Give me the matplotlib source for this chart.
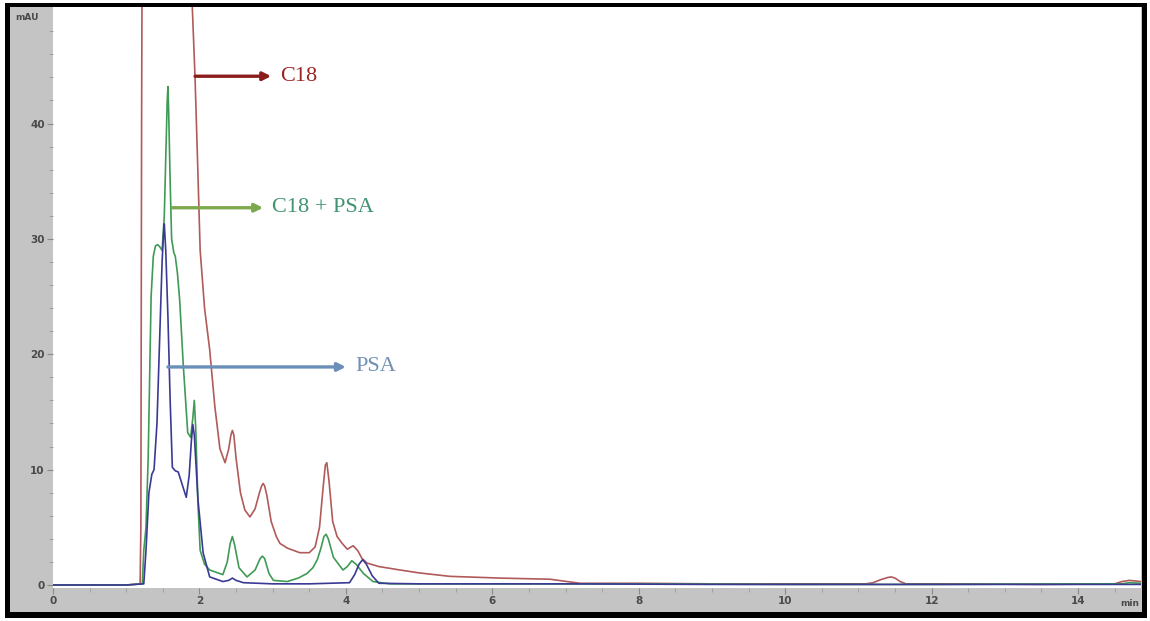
import numpy as np
import matplotlib.pyplot as plt
from matplotlib.patches import Rectangle

# retention times (min) and absorbances (mAU)
c18_t = [0.0, 1.0, 1.19, 1.20, 1.21, 1.22, 1.5, 1.88, 1.90, 1.94, 1.97, 2.01, 2.07, 2.14, 2.21, 2.28,
         2.35, 2.40, 2.43, 2.45, 2.47, 2.50, 2.56, 2.62, 2.69, 2.76, 2.82, 2.85, 2.87, 2.89, 2.92, 2.98,
         3.05, 3.10, 3.20, 3.37, 3.50, 3.58, 3.64, 3.69, 3.72, 3.74, 3.77, 3.82, 3.88, 3.95, 4.02, 4.07,
         4.10, 4.16, 4.22, 4.29, 4.45, 4.74, 5.0, 5.42, 6.1, 6.79, 7.02, 7.2, 8.0, 9.0, 10.0, 11.1,
         11.2, 11.3, 11.4, 11.45, 11.5, 11.57, 11.65, 12.5, 13.5, 14.5, 14.6, 14.7, 14.86]
c18_y = [0.0, 0.0, 0.1, 5.0, 40.0, 60.0, 90.0, 60.0, 50.5, 44.0, 37.7, 29.0, 24.0, 20.4, 15.5, 11.8,
         10.6, 11.8, 13.0, 13.4, 13.0, 11.0, 8.0, 6.5, 5.9, 6.6, 8.0, 8.6, 8.8, 8.6, 7.8, 5.5,
         4.2, 3.6, 3.2, 2.8, 2.8, 3.3, 5.0, 8.5, 10.4, 10.6, 9.0, 5.5, 4.2, 3.6, 3.1, 3.3,
         3.4, 3.0, 2.3, 1.9, 1.6, 1.3, 1.05, 0.75, 0.6, 0.5, 0.3, 0.15, 0.15, 0.1, 0.1, 0.1,
         0.2, 0.45, 0.65, 0.7, 0.6, 0.3, 0.1, 0.1, 0.05, 0.1, 0.3, 0.4, 0.3]

c18psa_t = [0.0, 1.0, 1.22, 1.24, 1.27, 1.30, 1.32, 1.34, 1.37, 1.40, 1.43, 1.46, 1.49, 1.52, 1.54,
            1.56, 1.57, 1.58, 1.60, 1.62, 1.65, 1.67, 1.70, 1.73, 1.78, 1.84, 1.88, 1.91, 1.93, 1.95,
            1.98, 2.01, 2.07, 2.14, 2.32, 2.38, 2.42, 2.45, 2.48, 2.54, 2.65, 2.76, 2.83, 2.86, 2.89,
            2.95, 3.01, 3.20, 3.35, 3.47, 3.55, 3.61, 3.66, 3.70, 3.73, 3.76, 3.83, 3.96, 4.02, 4.08,
            4.14, 4.24, 4.37, 4.6, 6.0, 8.0, 10.0, 12.0, 14.0, 14.6, 14.7, 14.86]
c18psa_y = [0.0, 0.0, 0.1, 3.0, 5.0, 11.0, 18.0, 25.0, 28.5, 29.4, 29.5, 29.3, 29.0, 32.0, 37.0,
            42.0, 43.2, 41.0, 35.0, 30.0, 28.8, 28.5, 27.0, 24.7, 19.0, 13.2, 12.8, 14.5, 16.0, 13.5,
            7.0, 3.0, 1.8, 1.3, 0.9, 2.0, 3.6, 4.2, 3.5, 1.5, 0.7, 1.3, 2.3, 2.5, 2.3, 1.0,
            0.4, 0.3, 0.6, 1.0, 1.5, 2.2, 3.2, 4.2, 4.4, 4.0, 2.4, 1.3, 1.6, 2.1,
            1.8, 1.0, 0.3, 0.1, 0.1, 0.1, 0.05, 0.05, 0.1, 0.1, 0.2, 0.15]

psa_t = [0.0, 1.0, 1.24, 1.27, 1.31, 1.35, 1.38, 1.42, 1.46, 1.49, 1.51, 1.52, 1.54, 1.57, 1.60,
         1.63, 1.67, 1.71, 1.76, 1.82, 1.86, 1.89, 1.91, 1.93, 1.98, 2.05, 2.14, 2.32, 2.40, 2.45,
         2.50, 2.60, 3.0, 3.5, 4.05, 4.12, 4.18, 4.23, 4.28, 4.36, 4.45, 5.0, 7.0, 9.0, 11.0, 13.0,
         14.86]
psa_y = [0.0, 0.0, 0.1, 3.0, 8.0, 9.6, 10.0, 14.0, 22.0, 28.0, 30.5, 31.3, 29.0, 23.2, 16.0,
         10.2, 9.9, 9.8, 8.8, 7.6, 9.5, 12.5, 13.9, 13.0, 7.4, 2.8, 0.7, 0.3, 0.4, 0.6,
         0.4, 0.2, 0.1, 0.1, 0.2, 0.9, 1.8, 2.2, 1.8, 0.8, 0.15, 0.1, 0.1, 0.05, 0.05, 0.05,
         0.05]

xticks = [0, 2, 4, 6, 8, 10, 12, 14]
yticks = [0, 10, 20, 30, 40]


def main():
    W, H = 1150, 621
    fig = plt.figure(figsize=(W / 100, H / 100), dpi=100)
    fig.patch.set_facecolor("white")

    # screenshot frame: black border + grey surround
    fig.patches.append(Rectangle((5 / W, 1 - 618 / H), 1142 / W, 615 / H,
                                 transform=fig.transFigure, facecolor="black", edgecolor="none", zorder=-10))
    fig.patches.append(Rectangle((10 / W, 1 - 612 / H), 1132 / W, 605 / H,
                                 transform=fig.transFigure, facecolor="#c4c4c4", edgecolor="none", zorder=-9))

    ax = fig.add_axes([53 / W, 1 - 588 / H, (1141 - 53) / W, (588 - 7) / H])
    ax.set_facecolor("white")
    for s in ax.spines.values():
        s.set_visible(False)

    ax.plot(c18_t, c18_y, color="#b05a5a", lw=1.2)
    ax.plot(c18psa_t, c18psa_y, color="#3f9a55", lw=1.2)
    ax.plot(psa_t, psa_y, color="#3a3a95", lw=1.2)

    ax.set_xlim(0, 14.86)
    ax.set_ylim(-0.26, 50.1)

    ax.set_xticks(xticks)
    ax.set_xticks(np.arange(0, 15, 0.5), minor=True)
    ax.set_yticks(yticks)
    ax.set_yticks(np.arange(0, 50, 2), minor=True)
    ax.tick_params(axis="both", which="major", length=4, color="#8a8a8a", labelsize=7.5,
                   labelcolor="#4a4a4a", pad=2)
    ax.tick_params(axis="both", which="minor", length=3, color="#9a9a9a")
    for lbl in ax.get_xticklabels() + ax.get_yticklabels():
        lbl.set_fontweight("bold")

    fig.text(27 / W, 1 - 18 / H, "mAU", fontsize=6.5, color="#4a4a4a", ha="center", va="center",
             fontweight="bold")
    fig.text(1130 / W, 1 - 604 / H, "min", fontsize=6.5, color="#4a4a4a", ha="center", va="center",
             fontweight="bold")

    # annotations
    serif = "Liberation Serif"
    ax.annotate("", xy=(2.98, 44.1), xytext=(1.94, 44.1),
                arrowprops=dict(arrowstyle="-|>", color="#8b1c1c", lw=2.4, mutation_scale=12,
                                shrinkA=0, shrinkB=0))
    ax.text(3.10, 44.1, "C18", fontsize=16, color="#9a2525", family=serif, va="center")

    ax.annotate("", xy=(2.87, 32.7), xytext=(1.63, 32.7),
                arrowprops=dict(arrowstyle="-|>", color="#7ea84e", lw=2.4, mutation_scale=12,
                                shrinkA=0, shrinkB=0))
    ax.text(2.99, 32.7, "C18 + PSA", fontsize=16, color="#3f9470", family=serif, va="center")

    ax.annotate("", xy=(4.00, 18.9), xytext=(1.57, 18.9),
                arrowprops=dict(arrowstyle="-|>", color="#6a8fb8", lw=2.4, mutation_scale=12,
                                shrinkA=0, shrinkB=0))
    ax.text(4.13, 18.9, "PSA", fontsize=16, color="#7190b2", family=serif, va="center")

    fig.savefig("out.png", dpi=100, facecolor="white")


if __name__ == "__main__":
    main()
